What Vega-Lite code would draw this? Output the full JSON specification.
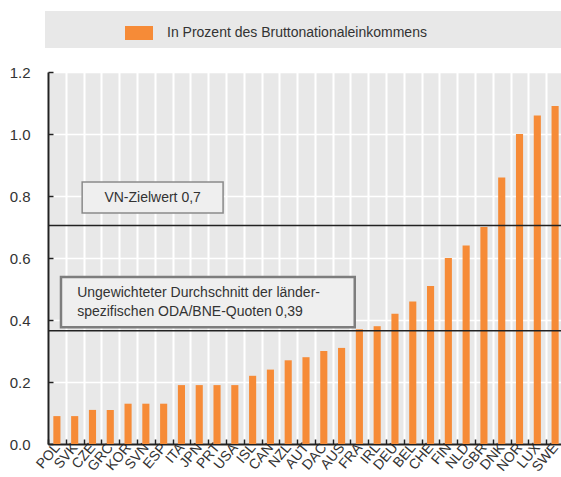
{
  "$schema": "https://vega.github.io/schema/vega-lite/v6.json",
  "width": 516,
  "height": 372,
  "autosize": "none",
  "padding": {"left": 48, "top": 72, "right": 0, "bottom": 33},
  "background": "white",
  "config": {
    "view": {"fill": "#e8e8e8", "stroke": null},
    "font": "Liberation Sans",
    "text": {"font": "Liberation Sans"}
  },
  "datasets": {
    "oda": [
      {"land": "POL", "wert": 0.09},
      {"land": "SVK", "wert": 0.09},
      {"land": "CZE", "wert": 0.11},
      {"land": "GRC", "wert": 0.11},
      {"land": "KOR", "wert": 0.13},
      {"land": "SVN", "wert": 0.13},
      {"land": "ESP", "wert": 0.13},
      {"land": "ITA", "wert": 0.19},
      {"land": "JPN", "wert": 0.19},
      {"land": "PRT", "wert": 0.19},
      {"land": "USA", "wert": 0.19},
      {"land": "ISL", "wert": 0.22},
      {"land": "CAN", "wert": 0.24},
      {"land": "NZL", "wert": 0.27},
      {"land": "AUT", "wert": 0.28},
      {"land": "DAC", "wert": 0.30},
      {"land": "AUS", "wert": 0.31},
      {"land": "FRA", "wert": 0.37},
      {"land": "IRL", "wert": 0.38},
      {"land": "DEU", "wert": 0.42},
      {"land": "BEL", "wert": 0.46},
      {"land": "CHE", "wert": 0.51},
      {"land": "FIN", "wert": 0.60},
      {"land": "NLD", "wert": 0.64},
      {"land": "GBR", "wert": 0.70},
      {"land": "DNK", "wert": 0.86},
      {"land": "NOR", "wert": 1.00},
      {"land": "LUX", "wert": 1.06},
      {"land": "SWE", "wert": 1.09}
    ],
    "linien": [
      {"name": "VN-Zielwert", "wert": 0.705},
      {"name": "Durchschnitt", "wert": 0.365}
    ],
    "box1": [{"von": "SVK", "bis": "PRT", "y1": 0.745, "y2": 0.845}],
    "box2": [{"von": "POL", "bis": "FRA", "y1": 0.377, "y2": 0.539}],
    "text1": [{"land": "SVN", "y": 0.795, "text": "VN-Zielwert 0,7"}],
    "text2": [{"land": "SVK", "y": 0.487, "text": ["Ungewichteter Durchschnitt der länder-", "spezifischen ODA/BNE-Quoten 0,39"]}]
  },
  "layer": [
    {
      "data": {"name": "oda"},
      "mark": {"type": "bar", "width": {"band": 0.4}},
      "encoding": {
        "x": {
          "field": "land",
          "type": "nominal",
          "sort": null,
          "scale": {"paddingInner": 0, "paddingOuter": 0},
          "axis": {
            "title": null,
            "tickBand": "extent",
            "labelAngle": -50,
            "labelAlign": "right",
            "labelBaseline": "middle",
            "labelFontSize": 14,
            "labelColor": "#333333",
            "labelPadding": 6,
            "ticks": true,
            "tickSize": -5,
            "tickColor": "#222222",
            "tickWidth": 1.5,
            "domainColor": "#222222",
            "domainWidth": 2,
            "grid": true,
            "gridColor": "#ffffff",
            "gridWidth": 2
          }
        },
        "y": {
          "field": "wert",
          "type": "quantitative",
          "scale": {"domain": [0, 1.2], "nice": false},
          "axis": {
            "title": null,
            "values": [0, 0.2, 0.4, 0.6, 0.8, 1.0, 1.2],
            "format": ".1f",
            "labelFontSize": 15,
            "labelColor": "#333333",
            "labelPadding": 23,
            "tickSize": -5,
            "tickColor": "#222222",
            "tickWidth": 1.5,
            "domainColor": "#222222",
            "domainWidth": 2,
            "grid": true,
            "gridColor": "#ffffff",
            "gridWidth": 1.5
          }
        },
        "color": {
          "datum": "In Prozent des Bruttonationaleinkommens",
          "type": "nominal",
          "scale": {"range": ["#f68b37"]},
          "legend": {
            "title": "\u00a0",
            "titleOrient": "right",
            "titlePadding": 127,
            "titleFontSize": 14,
            "orient": "none",
            "legendX": -3,
            "legendY": -61,
            "fillColor": "#e8e8e8",
            "padding": 8,
            "symbolType": "M-1,-0.5H1V0.5H-1Z",
            "symbolSize": 784,
            "symbolStrokeWidth": 0,
            "symbolOffset": 72,
            "labelOffset": 14,
            "labelFontSize": 14,
            "labelColor": "#333333",
            "labelLimit": 400
          }
        }
      }
    },
    {
      "data": {"name": "linien"},
      "mark": {"type": "rule", "color": "#222222", "strokeWidth": 1.5},
      "encoding": {"y": {"field": "wert", "type": "quantitative"}}
    },
    {
      "data": {"name": "box1"},
      "mark": {"type": "rect", "fill": "#efefef", "stroke": "#8a8a8a", "strokeWidth": 1.5},
      "encoding": {
        "x": {"field": "von", "type": "nominal", "sort": null, "bandPosition": 0.92},
        "x2": {"field": "bis", "bandPosition": 0.84},
        "y": {"field": "y1", "type": "quantitative"},
        "y2": {"field": "y2"}
      }
    },
    {
      "data": {"name": "box2"},
      "mark": {"type": "rect", "fill": "#efefef", "stroke": "#7d7d7d", "strokeWidth": 2.5},
      "encoding": {
        "x": {"field": "von", "type": "nominal", "sort": null, "bandPosition": 0.73},
        "x2": {"field": "bis", "bandPosition": 0.24},
        "y": {"field": "y1", "type": "quantitative"},
        "y2": {"field": "y2"}
      }
    },
    {
      "data": {"name": "text1"},
      "mark": {"type": "text", "fontSize": 14, "color": "#333333", "baseline": "middle", "align": "center"},
      "encoding": {
        "x": {"field": "land", "type": "nominal", "sort": null, "bandPosition": 0.88},
        "y": {"field": "y", "type": "quantitative"},
        "text": {"field": "text"}
      }
    },
    {
      "data": {"name": "text2"},
      "mark": {"type": "text", "fontSize": 14, "color": "#333333", "baseline": "middle", "align": "left", "lineHeight": 19},
      "encoding": {
        "x": {"field": "land", "type": "nominal", "sort": null, "bandPosition": 0.64},
        "y": {"field": "y", "type": "quantitative"},
        "text": {"field": "text"}
      }
    }
  ]
}
